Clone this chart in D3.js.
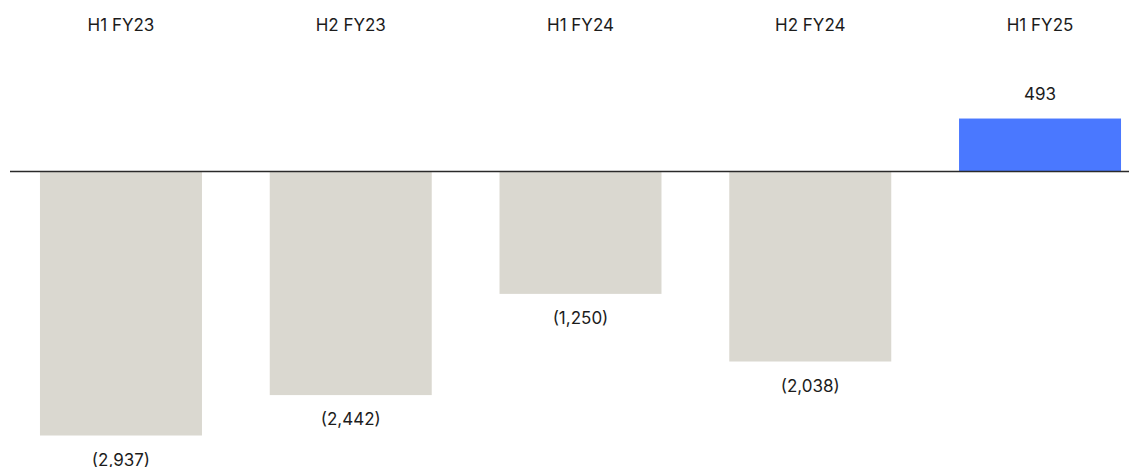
<!DOCTYPE html>
<html>
<head>
<meta charset="utf-8">
<script src="https://cdn.jsdelivr.net/npm/d3@7"></script>
<style>
  html, body { margin: 0; padding: 0; background: #ffffff; }
  svg { display: block; }
  text { font-family: Inter, "Noto Sans", sans-serif; fill: #1c1c1c; }
</style>
</head>
<body>
<svg id="chart" width="1129" height="467"></svg>
<script>
const categories = ["H1 FY23", "H2 FY23", "H1 FY24", "H2 FY24", "H1 FY25"];
const values = [-2937, -2442, -1250, -2038, 493];
const barColors = ["#dad8d0", "#dad8d0", "#dad8d0", "#dad8d0", "#4a78ff"];

const width = 1129, height = 467;
const svg = d3.select("#chart");

const x = d3.scaleBand()
  .domain(categories)
  .range([17, 1144])
  .paddingInner(0.295)
  .paddingOuter(0.1);

const y = d3.scalePow()
  .exponent(0.9)
  .domain([d3.min(values), 0])
  .range([435.5, 171.5]);

const data = categories.map((c, i) => ({ cat: c, value: values[i], color: barColors[i] }));

// bars
svg.append("g").selectAll("rect")
  .data(data)
  .join("rect")
  .attr("x", d => x(d.cat))
  .attr("width", x.bandwidth())
  .attr("y", d => Math.min(y(d.value), y(0)))
  .attr("height", d => Math.abs(y(d.value) - y(0)))
  .attr("fill", d => d.color);

// baseline
svg.append("line")
  .attr("x1", 10).attr("x2", width)
  .attr("y1", y(0)).attr("y2", y(0))
  .attr("stroke", "#2a2a2a")
  .attr("stroke-width", 1.4);

// category labels on top
const xAxis = d3.axisTop(x).tickSize(0).tickPadding(0);
const gx = svg.append("g").attr("transform", "translate(0,31)").call(xAxis);
gx.select(".domain").remove();
gx.selectAll("text")
  .attr("font-size", 17)
  .attr("font-family", "Inter, 'Noto Sans', sans-serif")
  .attr("fill", "#1c1c1c")
  .attr("dy", 0);

// value labels
const fmt = d3.format(",");
svg.append("g").selectAll("text")
  .data(data)
  .join("text")
  .attr("x", d => x(d.cat) + x.bandwidth() / 2)
  .attr("y", d => d.value < 0 ? y(d.value) + 30 : y(d.value) - 19)
  .attr("text-anchor", "middle")
  .attr("font-size", 17)
  .text(d => d.value < 0 ? "(" + fmt(-d.value) + ")" : fmt(d.value));
</script>
</body>
</html>
